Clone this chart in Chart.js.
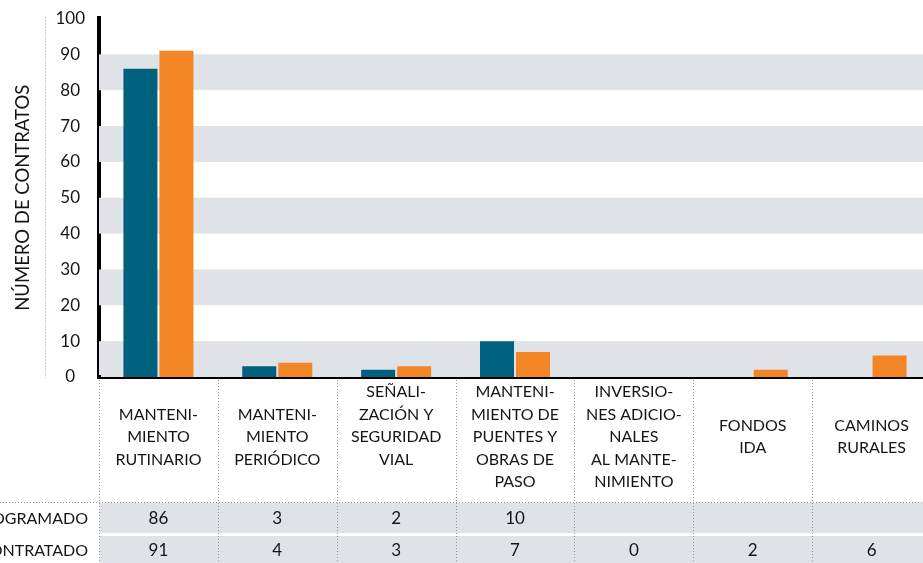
<!DOCTYPE html>
<html><head><meta charset="utf-8">
<script src="https://cdn.jsdelivr.net/npm/chart.js@4/dist/chart.umd.min.js"></script>
<style>html,body{margin:0;padding:0;background:#fff;overflow:hidden;width:923px;height:563px}canvas{display:block}</style>
</head><body>
<canvas id="c" width="931" height="563"></canvas>
<script>
const categories = [
  ['MANTENI-','MIENTO','RUTINARIO'],
  ['MANTENI-','MIENTO','PERIÓDICO'],
  ['SEÑALI-','ZACIÓN Y','SEGURIDAD','VIAL',''],
  ['MANTENI-','MIENTO DE','PUENTES Y','OBRAS DE','PASO'],
  ['INVERSIO-','NES ADICIO-','NALES','AL MANTE-','NIMIENTO'],
  ['FONDOS','IDA'],
  ['CAMINOS','RURALES']
];
const seriesNames = ['PROGRAMADO','CONTRATADO'];
const programado = [86, 3, 2, 10, null, null, null];
const contratado = [91, 4, 3, 7, 0, 2, 6];
const yMin = 0, yMax = 100, yStep = 10;
const yTitle = 'NÚMERO DE CONTRATOS';

const TEAL = '#00617f', ORANGE = '#f38525', BAND = '#dfe3e7', DOT = '#8d99a5', INK = '#151515';
const FONT = 'Lato, "Noto Sans", sans-serif';

const decor = {
  id: 'decor',
  beforeDatasetsDraw(chart) {
    const {ctx, chartArea: a, scales: {y}} = chart;
    ctx.save();
    ctx.fillStyle = BAND;
    const t = y.ticks.map(k => k.value);
    for (let i = 0; i + 1 < t.length; i += 2) {
      const y0 = y.getPixelForValue(t[i + 1]), y1 = y.getPixelForValue(t[i]);
      ctx.fillRect(a.left, y0, a.right - a.left, y1 - y0);
    }
    ctx.restore();
  },
  afterDraw(chart) {
    const {ctx, chartArea: a, scales: {x}} = chart;
    const W = chart.width, H = chart.height;
    ctx.save();
    // corner squares of the axes
    ctx.fillStyle = '#000';
    ctx.fillRect(a.left - 2, a.bottom - 2, 4, 4);
    ctx.fillRect(a.left - 2, a.top - 2.5, 4, 3);
    // table rows
    const rows = [
      {label: seriesNames[0], data: programado, y0: x.bottom + 1, y1: x.bottom + 31},
      {label: seriesNames[1], data: contratado, y0: x.bottom + 34, y1: H}
    ];
    ctx.fillStyle = BAND;
    rows.forEach(r => ctx.fillRect(a.left + 0.5, r.y0, W - a.left, r.y1 - r.y0));
    ctx.fillStyle = INK;
    ctx.textBaseline = 'middle';
    rows.forEach(r => {
      const ym = (r.y0 + r.y1) / 2 + 1;
      ctx.font = '16px ' + FONT;
      ctx.textAlign = 'right';
      ctx.fillText(r.label, 88, ym);
      ctx.font = '17px ' + FONT;
      ctx.textAlign = 'center';
      r.data.forEach((v, i) => { if (v !== null) ctx.fillText(String(v), x.getPixelForValue(i), ym); });
    });
    // dotted lines
    ctx.strokeStyle = DOT;
    ctx.lineWidth = 1;
    ctx.setLineDash([1, 2]);
    ctx.beginPath();
    ctx.moveTo(45.5, a.top - 1); ctx.lineTo(45.5, a.bottom + 1);
    for (let i = 0; i <= categories.length; i++) {
      const px = Math.round(x.getPixelForValue(i - 0.5)) + 0.5;
      ctx.moveTo(px, a.bottom + 3); ctx.lineTo(px, H);
    }
    ctx.moveTo(0, x.bottom + 0.5); ctx.lineTo(W, x.bottom + 0.5);
    ctx.stroke();
    ctx.restore();
  }
};

new Chart(document.getElementById('c'), {
  type: 'bar',
  data: {
    labels: categories,
    datasets: [
      {label: seriesNames[0], data: programado, backgroundColor: TEAL, borderWidth: 0},
      {label: seriesNames[1], data: contratado, backgroundColor: ORANGE, borderWidth: 0}
    ]
  },
  options: {
    responsive: false,
    animation: false,
    devicePixelRatio: 1,
    categoryPercentage: 0.606,
    barPercentage: 0.944,
    layout: {padding: {top: 18.5, right: 0, bottom: 61, left: 0}},
    plugins: {legend: {display: false}, tooltip: {enabled: false}},
    scales: {
      x: {
        grid: {display: false, drawTicks: false},
        border: {display: true, color: '#000', width: 4},
        ticks: {
          autoSkip: false, maxRotation: 0, minRotation: 0,
          crossAlign: 'center', padding: 15, color: INK,
          font: {family: FONT, size: 16, lineHeight: 1.406}
        },
        afterFit(s) { s.height = 125; }
      },
      y: {
        min: yMin, max: yMax,
        grid: {display: false, drawTicks: false},
        border: {display: true, color: '#000', width: 4},
        ticks: {
          stepSize: yStep, crossAlign: 'center', padding: 14, color: INK,
          font: {family: FONT, size: 17}
        },
        title: {
          display: true, text: yTitle, color: INK,
          font: {family: FONT, size: 18.5, lineHeight: 1.2},
          padding: {top: 12, bottom: 0}
        },
        afterFit(s) { s.width = 99; s.paddingTop = 0; s.paddingBottom = 0; }
      }
    }
  },
  plugins: [decor]
});
</script>
</body></html>
